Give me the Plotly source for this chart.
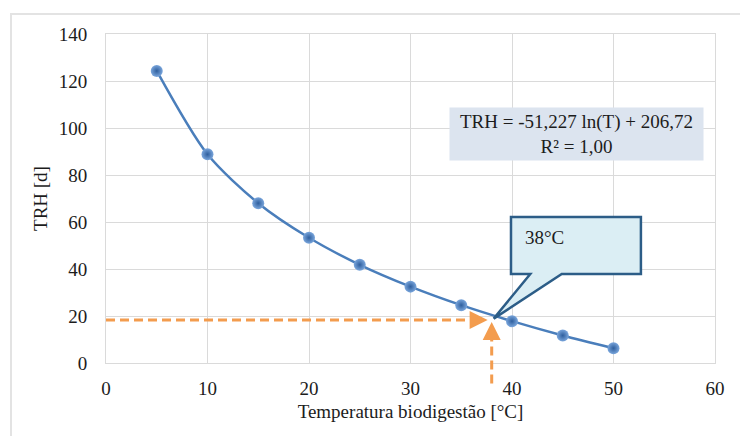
import plotly.graph_objects as go

# Data
temperatura = [5, 10, 15, 20, 25, 30, 35, 40, 45, 50]
trh = [124.3, 88.8, 68.0, 53.3, 41.8, 32.5, 24.6, 17.8, 11.7, 6.3]

x_ticks = [0, 10, 20, 30, 40, 50, 60]
y_ticks = [0, 20, 40, 60, 80, 100, 120, 140]

equation_text = "TRH = -51,227 ln(T) + 206,72<br>R² = 1,00"
callout_text = "38°C"
ref_temp = 38
ref_trh = 18.3

FONT = "Liberation Serif"
TXT = "#1c1c1c"
ORANGE = "#f39c4e"
BLUE = "#4a7ebb"
GRID = "#dadada"

fig = go.Figure()
fig.add_trace(go.Scatter(
    x=temperatura, y=trh, mode="lines+markers",
    line=dict(color=BLUE, width=2.5, shape="spline", smoothing=0.8),
    marker=dict(size=12, color="#7aa6dc",
                gradient=dict(type="radial", color="#2f5f9e"),
                line=dict(width=0)),
    showlegend=False, cliponaxis=False,
))

ymax = y_ticks[-1]

shapes = [
    # outer chart border
    dict(type="rect", xref="paper", yref="paper", x0=-0.156, x1=1.2,
         y0=-0.4, y1=1.061, line=dict(color="#e3e3e3", width=2), layer="below"),
    # horizontal dashed reference
    dict(type="line", xref="x", yref="y", x0=0, x1=ref_temp - 1.3,
         y0=ref_trh, y1=ref_trh, line=dict(color=ORANGE, width=3, dash="9px,5px")),
    # vertical dashed reference (extends below axis)
    dict(type="line", xref="x", yref="paper", x0=ref_temp, x1=ref_temp,
         y0=-0.062, y1=(ref_trh - 4.5) / ymax,
         line=dict(color=ORANGE, width=3, dash="9px,5px")),
    # callout box
    dict(type="path", xref="x", yref="y",
         path=f"M 39.9,62.1 L 52.7,62.1 L 52.7,37.9 L 44.9,37.9 L {ref_temp + 0.2},{ref_trh + 0.6} L 41.8,37.9 L 39.9,37.9 Z",
         fillcolor="#dbeef4", line=dict(color="#2c5d87", width=2.5)),
]

annotations = [
    dict(x=ref_temp - 0.4, y=ref_trh, xref="x", yref="y", text="",
         showarrow=True, ax=-12, ay=0, arrowhead=2, arrowsize=1.2,
         arrowwidth=3, arrowcolor=ORANGE),
    dict(x=ref_temp, y=ref_trh - 0.9, xref="x", yref="y", text="",
         showarrow=True, ax=0, ay=14, arrowhead=2, arrowsize=1.2,
         arrowwidth=3, arrowcolor=ORANGE),
    dict(x=46.4, y=97.4, xref="x", yref="y", text=equation_text,
         showarrow=False, bgcolor="#dce4ef", width=251, height=50,
         font=dict(family=FONT, size=19, color=TXT), align="center"),
    dict(x=41.1, y=53.6, xref="x", yref="y", text=callout_text,
         showarrow=False, xanchor="left", yanchor="middle",
         font=dict(family=FONT, size=19, color=TXT)),
]

fig.update_layout(
    width=740, height=436,
    margin=dict(l=106, r=25, t=34, b=73),
    paper_bgcolor="white", plot_bgcolor="white",
    font=dict(family=FONT, size=19, color=TXT),
    shapes=shapes, annotations=annotations,
    xaxis=dict(range=[0, 60], tickvals=x_ticks, showgrid=True, gridcolor=GRID,
               gridwidth=1, showline=True, linecolor=GRID, linewidth=1, mirror=True,
               zeroline=False, ticks="", ticklabelstandoff=8,
               title=dict(text="Temperatura biodigestão [°C]", standoff=6,
                          font=dict(family=FONT, size=19, color=TXT))),
    yaxis=dict(range=[0, 140], tickvals=y_ticks, showgrid=True, gridcolor=GRID,
               gridwidth=1, showline=True, linecolor=GRID, linewidth=1, mirror=True,
               zeroline=False, ticks="", ticklabelstandoff=14,
               title=dict(text="TRH [d]", standoff=6,
                          font=dict(family=FONT, size=19, color=TXT))),
)

fig.write_html("out.html")
